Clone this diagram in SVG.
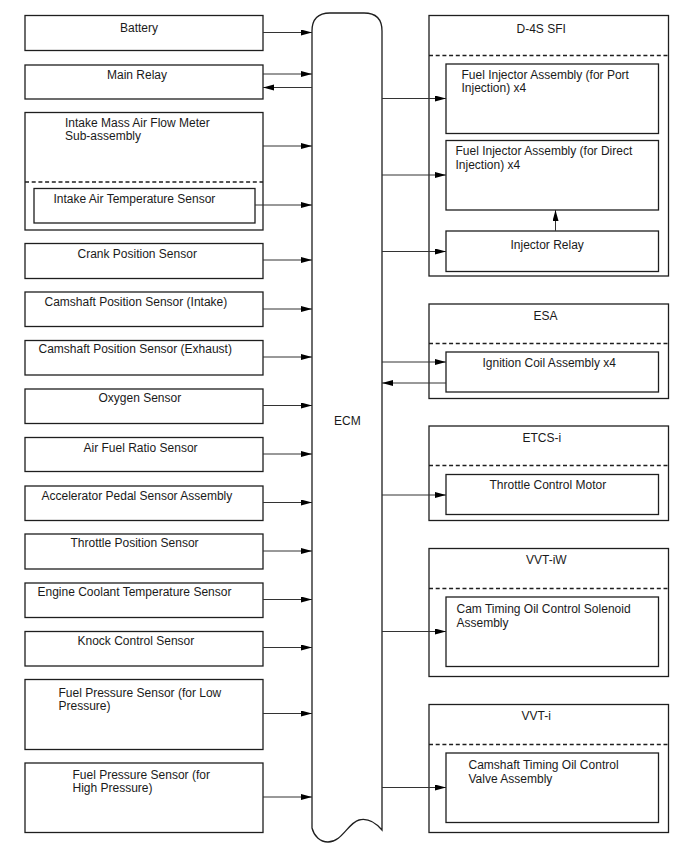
<svg xmlns="http://www.w3.org/2000/svg" width="688" height="852" viewBox="0 0 688 852">
<defs>
<style>
.b{fill:#fff;stroke:#1e1e1e;stroke-width:1.3}
.d{fill:none;stroke:#1e1e1e;stroke-width:1.3;stroke-dasharray:4 2.7}
.c{fill:none;stroke:#333;stroke-width:1;marker-end:url(#ah)}
text{font-family:"Liberation Sans",Arial,sans-serif;font-size:12px;fill:#1a1a1a}
</style>
<marker id="ah" markerUnits="userSpaceOnUse" markerWidth="12" markerHeight="7" refX="11" refY="3" orient="auto">
<path d="M0,0 L11,3 L0,6 Z" fill="#000"/>
</marker>
</defs>
<rect width="688" height="852" fill="#fff"/>

<g id="ecm">
<path class="b" d="M312,828 V31 Q312,13 330,13 H364 Q382,13 382,31 V830 C375,822 367,818 359,820 C348,823 342,842 328,842 C320,842 314,836 312,828 Z"/>
<text x="334" y="424.5">ECM</text>
</g>

<g id="battery"><rect class="b" x="25" y="15.5" width="238" height="35"/><text x="120" y="31.5">Battery</text></g>
<g id="main-relay"><rect class="b" x="25" y="65" width="238" height="34"/><text x="107" y="79">Main Relay</text></g>
<g id="maf"><rect class="b" x="25" y="112.5" width="238" height="117.5"/><text x="65" y="126.5">Intake Mass Air Flow Meter</text><text x="65" y="140">Sub-assembly</text><line class="d" x1="25" y1="182" x2="263" y2="182"/></g>
<g id="iat"><rect class="b" x="34" y="188.5" width="221" height="34.5"/><text x="53.5" y="202.5">Intake Air Temperature Sensor</text></g>
<g id="crank"><rect class="b" x="25" y="243.5" width="238" height="35"/><text x="77.5" y="257.5">Crank Position Sensor</text></g>
<g id="cam-intake"><rect class="b" x="25" y="292" width="238" height="34.5"/><text x="44.5" y="306">Camshaft Position Sensor (Intake)</text></g>
<g id="cam-exhaust"><rect class="b" x="25" y="340.5" width="238" height="34.5"/><text x="38.5" y="353">Camshaft Position Sensor (Exhaust)</text></g>
<g id="oxygen"><rect class="b" x="25" y="389" width="238" height="34.5"/><text x="98.5" y="402">Oxygen Sensor</text></g>
<g id="afr"><rect class="b" x="25" y="437.5" width="238" height="34"/><text x="83.5" y="451.5">Air Fuel Ratio Sensor</text></g>
<g id="accel"><rect class="b" x="25" y="486" width="238" height="34.5"/><text x="41.5" y="500">Accelerator Pedal Sensor Assembly</text></g>
<g id="tps"><rect class="b" x="25" y="534" width="238" height="35"/><text x="70.5" y="547">Throttle Position Sensor</text></g>
<g id="ect"><rect class="b" x="25" y="583" width="238" height="34.5"/><text x="37.5" y="596">Engine Coolant Temperature Sensor</text></g>
<g id="knock"><rect class="b" x="25" y="631.5" width="238" height="34.5"/><text x="77.5" y="644.5">Knock Control Sensor</text></g>
<g id="fp-low"><rect class="b" x="25" y="679.5" width="238" height="70"/><text x="58.5" y="697">Fuel Pressure Sensor (for Low</text><text x="58.5" y="710.3">Pressure)</text></g>
<g id="fp-high"><rect class="b" x="25" y="763" width="238" height="69.5"/><text x="72.5" y="778.5">Fuel Pressure Sensor (for</text><text x="72.5" y="792">High Pressure)</text></g>

<g id="d4s"><rect class="b" x="429" y="15.5" width="239.5" height="260.5"/><text x="516.5" y="32.5">D-4S SFI</text><line class="d" x1="429" y1="55.5" x2="668.5" y2="55.5"/></g>
<g id="inj-port"><rect class="b" x="446" y="64" width="212.5" height="69.5"/><text x="461.5" y="78.5">Fuel Injector Assembly (for Port</text><text x="461.5" y="92">Injection) x4</text></g>
<g id="inj-direct"><rect class="b" x="446" y="140.5" width="212.5" height="69.5"/><text x="455.5" y="155">Fuel Injector Assembly (for Direct</text><text x="455.5" y="168.5">Injection) x4</text></g>
<g id="inj-relay"><rect class="b" x="446" y="231" width="212.5" height="40.5"/><text x="510.5" y="248.5">Injector Relay</text></g>

<g id="esa"><rect class="b" x="429" y="304" width="239.5" height="94.5"/><text x="533.5" y="320">ESA</text><line class="d" x1="429" y1="343.5" x2="668.5" y2="343.5"/></g>
<g id="ignition"><rect class="b" x="446" y="352" width="212.5" height="40"/><text x="482.5" y="366.5">Ignition Coil Assembly x4</text></g>

<g id="etcs"><rect class="b" x="429" y="426" width="239.5" height="94.5"/><text x="522.5" y="442">ETCS-i</text><line class="d" x1="429" y1="465.5" x2="668.5" y2="465.5"/></g>
<g id="throttle-motor"><rect class="b" x="446" y="474.5" width="212.5" height="40"/><text x="489.5" y="488.5">Throttle Control Motor</text></g>

<g id="vvt-iw"><rect class="b" x="429" y="548.5" width="239.5" height="128"/><text x="526" y="563.5">VVT-iW</text><line class="d" x1="429" y1="588.5" x2="668.5" y2="588.5"/></g>
<g id="cam-ocv-sol"><rect class="b" x="446" y="597" width="212.5" height="69.5"/><text x="456.5" y="612.5">Cam Timing Oil Control Solenoid</text><text x="456.5" y="627">Assembly</text></g>

<g id="vvt-i"><rect class="b" x="429" y="704.5" width="239.5" height="128"/><text x="521.5" y="720.3">VVT-i</text><line class="d" x1="429" y1="744.5" x2="668.5" y2="744.5"/></g>
<g id="cam-ocv"><rect class="b" x="446" y="753" width="212.5" height="69.5"/><text x="468.5" y="768.5">Camshaft Timing Oil Control</text><text x="468.5" y="783">Valve Assembly</text></g>

<g id="connectors">
<line class="c" x1="263" y1="32.5" x2="312" y2="32.5"/>
<line class="c" x1="263" y1="74" x2="312" y2="74"/>
<line class="c" x1="312" y1="87.5" x2="263" y2="87.5"/>
<line class="c" x1="263" y1="146" x2="312" y2="146"/>
<line class="c" x1="255" y1="205" x2="312" y2="205"/>
<line class="c" x1="263" y1="260" x2="312" y2="260"/>
<line class="c" x1="263" y1="309" x2="312" y2="309"/>
<line class="c" x1="263" y1="357" x2="312" y2="357"/>
<line class="c" x1="263" y1="405.5" x2="312" y2="405.5"/>
<line class="c" x1="263" y1="454" x2="312" y2="454"/>
<line class="c" x1="263" y1="502.5" x2="312" y2="502.5"/>
<line class="c" x1="263" y1="551" x2="312" y2="551"/>
<line class="c" x1="263" y1="599.5" x2="312" y2="599.5"/>
<line class="c" x1="263" y1="647.5" x2="312" y2="647.5"/>
<line class="c" x1="263" y1="713.5" x2="312" y2="713.5"/>
<line class="c" x1="263" y1="797" x2="312" y2="797"/>
<line class="c" x1="382" y1="98.5" x2="446" y2="98.5"/>
<line class="c" x1="382" y1="175" x2="446" y2="175"/>
<line class="c" x1="382" y1="251.5" x2="446" y2="251.5"/>
<line class="c" x1="555.5" y1="231" x2="555.5" y2="210"/>
<line class="c" x1="382" y1="362" x2="446" y2="362"/>
<line class="c" x1="446" y1="383" x2="382" y2="383"/>
<line class="c" x1="382" y1="495" x2="446" y2="495"/>
<line class="c" x1="382" y1="631.5" x2="446" y2="631.5"/>
<line class="c" x1="382" y1="787.5" x2="446" y2="787.5"/>
</g>
</svg>
